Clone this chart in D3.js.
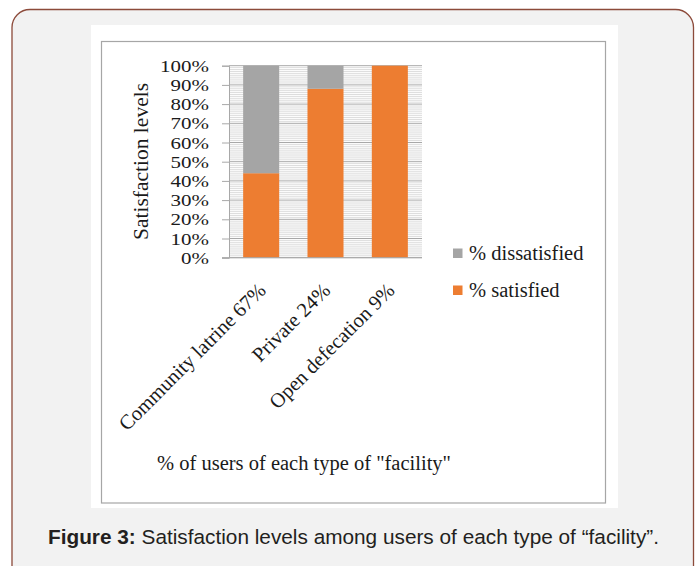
<!DOCTYPE html>
<html>
<head>
<meta charset="utf-8">
<script src="https://cdn.jsdelivr.net/npm/d3@7"></script>
<style>
  html, body { margin: 0; padding: 0; background: #ffffff; }
  svg { display: block; }
</style>
</head>
<body>
<svg id="fig" width="696" height="566"></svg>
<script>
// Facility categories and stacked shares (percent of users)
const categories = ["Community latrine 67%", "Private 24%", "Open defecation 9%"];
const satisfied = [44, 88, 100];
const dissatisfied = [56, 12, 0];
const seriesNames = ["% satisfied", "% dissatisfied"];
const yTicks = [0, 10, 20, 30, 40, 50, 60, 70, 80, 90, 100];
const yMinor = d3.range(0, 101, 1);

const colors = { "% satisfied": "#ED7D31", "% dissatisfied": "#A5A5A5" };

const svg = d3.select("#fig");

// Figure frame
svg.append("rect")
  .attr("x", 12).attr("y", 9.5).attr("width", 681.5).attr("height", 575)
  .attr("rx", 18).attr("ry", 18)
  .attr("fill", "#f2f2f2").attr("stroke", "#8c4a3a").attr("stroke-width", 1.3);

// White panel holding the chart
svg.append("rect")
  .attr("x", 91).attr("y", 25).attr("width", 527).attr("height", 483)
  .attr("fill", "#ffffff");
svg.append("rect")
  .attr("x", 101.5).attr("y", 41.5).attr("width", 504).attr("height", 461.5)
  .attr("fill", "#ffffff").attr("stroke", "#a6a6a6").attr("stroke-width", 1.2);

const plot = { left: 229, right: 422, top: 65.7, bottom: 257.7 };

const x = d3.scaleBand()
  .domain(categories)
  .range([plot.left, plot.right])
  .paddingInner(0.44)
  .paddingOuter(0.22);

const y = d3.scaleLinear()
  .domain([0, 100])
  .range([plot.bottom, plot.top]);

// Minor gridlines every 1%
svg.append("g")
  .selectAll("line")
  .data(yMinor.filter(v => v % 10 !== 0))
  .join("line")
  .attr("x1", plot.left).attr("x2", plot.right)
  .attr("y1", d => y(d)).attr("y2", d => y(d))
  .attr("stroke", "#d4d4d4").attr("stroke-width", 0.8);

// Major gridlines every 10%
svg.append("g")
  .selectAll("line")
  .data(yTicks)
  .join("line")
  .attr("x1", plot.left).attr("x2", plot.right)
  .attr("y1", d => y(d)).attr("y2", d => y(d))
  .attr("stroke", "#a8a8a8").attr("stroke-width", 1);

// Stacked bars
const rows = categories.map((c, i) => ({
  category: c,
  "% satisfied": satisfied[i],
  "% dissatisfied": dissatisfied[i]
}));
const stack = d3.stack().keys(seriesNames)(rows);

svg.append("g")
  .selectAll("g")
  .data(stack)
  .join("g")
  .attr("fill", d => colors[d.key])
  .selectAll("rect")
  .data(d => d)
  .join("rect")
  .attr("x", d => x(d.data.category))
  .attr("width", x.bandwidth())
  .attr("y", d => y(d[1]))
  .attr("height", d => y(d[0]) - y(d[1]));

// Y axis: compact tick labels, widened to keep the wide serif look
const yAxis = svg.append("g")
  .attr("transform", `translate(${plot.left},0)`)
  .call(d3.axisLeft(y).tickValues(yTicks).tickSize(7).tickPadding(13)
    .tickFormat(d => d + "%"));
yAxis.select(".domain").attr("stroke", "#a8a8a8");
yAxis.selectAll(".tick line").attr("stroke", "#a8a8a8");
yAxis.selectAll(".tick text")
  .attr("font-family", "'Liberation Serif', 'Times New Roman', serif")
  .attr("font-size", 17.2)
  .attr("fill", "#1a1a1a")
  .each(function () {
    const w = this.getComputedTextLength();
    d3.select(this).attr("textLength", w * 1.22).attr("lengthAdjust", "spacingAndGlyphs");
  });

// X axis baseline
svg.append("line")
  .attr("x1", plot.left - 7).attr("x2", plot.right)
  .attr("y1", plot.bottom).attr("y2", plot.bottom)
  .attr("stroke", "#a8a8a8").attr("stroke-width", 1);

// Rotated category labels
svg.append("g")
  .selectAll("text")
  .data(categories)
  .join("text")
  .attr("transform", d => `translate(${x(d) + x.bandwidth() / 2 + 6},${plot.bottom + 34}) rotate(-45)`)
  .attr("text-anchor", "end")
  .attr("font-family", "'Liberation Serif', 'Times New Roman', serif")
  .attr("font-size", 20.5)
  .attr("fill", "#1a1a1a")
  .text(d => d);

// Axis titles
svg.append("text")
  .attr("transform", "translate(148,161.5) rotate(-90)")
  .attr("text-anchor", "middle")
  .attr("font-family", "'Liberation Serif', 'Times New Roman', serif")
  .attr("font-size", 21.5)
  .attr("fill", "#1a1a1a")
  .text("Satisfaction levels");

svg.append("text")
  .attr("x", 304).attr("y", 470)
  .attr("text-anchor", "middle")
  .attr("font-family", "'Liberation Serif', 'Times New Roman', serif")
  .attr("font-size", 20.5)
  .attr("fill", "#1a1a1a")
  .text('% of users of each type of "facility"');

// Legend
const legendItems = ["% dissatisfied", "% satisfied"];
const legend = svg.append("g")
  .selectAll("g")
  .data(legendItems)
  .join("g")
  .attr("transform", (d, i) => `translate(453,${248.5 + i * 37})`);
legend.append("rect")
  .attr("width", 9.5).attr("height", 9.5)
  .attr("fill", d => colors[d]);
legend.append("text")
  .attr("x", 16).attr("y", 11.5)
  .attr("font-family", "'Liberation Serif', 'Times New Roman', serif")
  .attr("font-size", 20.5)
  .attr("fill", "#1a1a1a")
  .text(d => d);

// Caption
const cap = svg.append("text")
  .attr("x", 48).attr("y", 544)
  .attr("font-family", "'Liberation Sans', Arial, sans-serif")
  .attr("font-size", 20.5)
  .attr("fill", "#231f20")
  .attr("textLength", 611)
  .attr("lengthAdjust", "spacingAndGlyphs");
cap.append("tspan").attr("font-weight", "bold").text("Figure 3:");
cap.append("tspan").text(" Satisfaction levels among users of each type of \u201Cfacility\u201D.");
</script>
</body>
</html>
